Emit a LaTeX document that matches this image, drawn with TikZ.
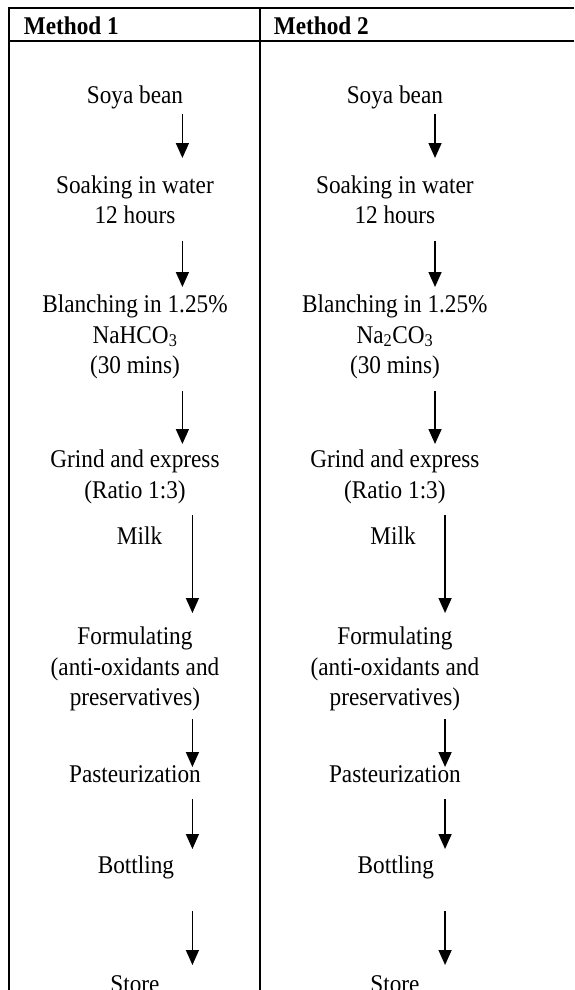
\documentclass[tikz,border=0pt]{standalone}
\usepackage{fontspec}
\setmainfont{Liberation Serif}[FakeStretch=0.912]
\usetikzlibrary{arrows.meta, positioning}

\tikzset{
  stage/.style={align=center, inner sep=0pt, font=\fontsize{25.5}{30.5}\selectfont},
  head/.style={anchor=base west, inner sep=0pt, font=\fontsize{25.5}{30.5}\selectfont\bfseries},
  flow/.style={line width=1.5pt, -{Triangle[width=13pt,length=15pt]}},
  rule/.style={line width=2pt}
}

\begin{document}
\begin{tikzpicture}[x=0.912pt, y=-1pt]
  \useasboundingbox (0,0) rectangle (629.4,990);
  \clip (0,0) rectangle (629.4,990);
  % table rules
  \draw[rule] (9,8.5) -- (629.4,8.5);
  \draw[rule] (9,41) -- (629.4,41);
  \draw[rule] (10,7.5) -- (10,990);
  \draw[rule] (285,7.5) -- (285,990);
  \node[head] (m1) at (26,35) {Method 1};
  \node[head] (m2) at (300,35) {Method 2};
  % method 1
  \node[stage] (soya1) at (148,97) {Soya bean};
  \node[stage] (soak1) at (148,200) {Soaking in water\\12 hours};
  \node[stage] (blanch1) at (148,337) {Blanching in 1.25\%\\NaHCO\textsubscript{3}\\(30 mins)};
  \node[stage] (grind1) at (148,477) {Grind and express\\(Ratio 1:3)};
  \node[stage] (milk1) at (153,536) {Milk};
  \node[stage] (form1) at (148,669) {Formulating\\(anti-oxidants and\\preservatives)};
  \node[stage] (past1) at (148,774) {Pasteurization};
  \node[stage] (bottle1) at (149,867) {Bottling};
  \node[stage] (store1) at (148,984) {Store};
  % method 2
  \node[stage] (soya2) at (433,97) {Soya bean};
  \node[stage] (soak2) at (433,200) {Soaking in water\\12 hours};
  \node[stage] (blanch2) at (433,337) {Blanching in 1.25\%\\Na\textsubscript{2}CO\textsubscript{3}\\(30 mins)};
  \node[stage] (grind2) at (433,477) {Grind and express\\(Ratio 1:3)};
  \node[stage] (milk2) at (431,536) {Milk};
  \node[stage] (form2) at (433,669) {Formulating\\(anti-oxidants and\\preservatives)};
  \node[stage] (past2) at (433,774) {Pasteurization};
  \node[stage] (bottle2) at (434,867) {Bottling};
  \node[stage] (store2) at (433,984) {Store};
  % arrows
  \foreach \c/\dx in {1/0, 2/277} {
    \foreach \i/\x/\a/\b in {1/200/114/158, 2/200/241/287, 3/200/391/444, 4/211/515/613,
                             5/211/719/767, 6/211/799/849, 7/211/911/965} {
      \coordinate (top\c\i) at (\x+\dx,\a);
      \coordinate (tip\c\i) at (\x+\dx,\b);
      \draw[flow] (top\c\i) -- (tip\c\i);
    }
  }
\end{tikzpicture}
\end{document}
